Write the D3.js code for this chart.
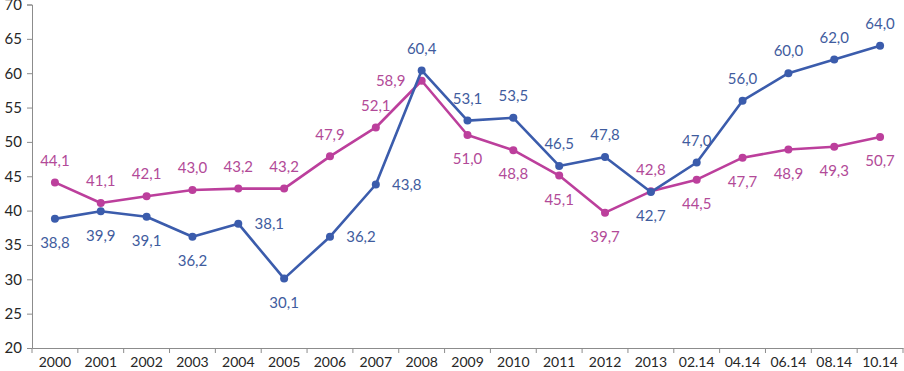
<!DOCTYPE html>
<html><head><meta charset="utf-8">
<script src="https://cdn.jsdelivr.net/npm/d3@7"></script>
<style>body{margin:0;background:#fff}svg{display:block}</style>
</head><body><svg id="c" width="904" height="371"></svg>
<script>
const categories = ["2000","2001","2002","2003","2004","2005","2006","2007","2008","2009","2010","2011","2012","2013","02.14","04.14","06.14","08.14","10.14"];
const seriesBlue = [38.8,39.9,39.1,36.2,38.1,30.1,36.2,43.8,60.4,53.1,53.5,46.5,47.8,42.7,47.0,56.0,60.0,62.0,64.0];
const seriesPink = [44.1,41.1,42.1,43.0,43.2,43.2,47.9,52.1,58.9,51.0,48.8,45.1,39.7,42.8,44.5,47.7,48.9,49.3,50.7];
const yTicks = [20,25,30,35,40,45,50,55,60,65,70];

// label placement (layout, not data)
const placeBlue = ["b","b","b","b","r","b","r","r","t","t","t","t","t","b","t","t","t","t","t"];
const placePink = ["t","t","t","t","t","t","t","t","l","b","b","b","b","t","b","b","b","b","b"];

(function(){
const svg = d3.select("#c");
const mLeft = 32, mRight = 903, mTop = 4.5, mBottom = 348;
const x = d3.scaleBand().domain(categories).range([mLeft, mRight]);
const y = d3.scaleLinear().domain([20,70]).range([mBottom, mTop]);
const font = "Lato, 'Open Sans', sans-serif";
const axisColor = "#8c8c8c";

const yAxis = svg.append("g").attr("transform", `translate(${mLeft},0)`)
  .call(d3.axisLeft(y).tickValues(yTicks).tickSize(5).tickPadding(5).tickFormat(d3.format("d")));
const xAxis = svg.append("g").attr("transform", `translate(0,${mBottom})`)
  .call(d3.axisBottom(x).tickSize(0).tickPadding(9));
[yAxis, xAxis].forEach(g => {
  g.select(".domain").attr("stroke", axisColor).attr("stroke-width", 1);
  g.selectAll(".tick line").attr("stroke", axisColor);
  g.selectAll("text").attr("fill", "#262626").style("font-family", font).style("font-size", "14px");
});
yAxis.selectAll("text").style("font-size","15px");
const bounds = categories.map(c => x(c)).concat([x(categories[categories.length-1]) + x.bandwidth()]);
svg.append("g").selectAll("line").data(bounds).join("line")
  .attr("x1", d => d).attr("x2", d => d).attr("y1", mBottom).attr("y2", mBottom + 5)
  .attr("stroke", axisColor);

const cx = c => x(c) + x.bandwidth()/2;

function drawSeries(vals, color, textColor, place) {
  const line = d3.line().x((d,i) => cx(categories[i])).y(d => y(d));
  svg.append("path").datum(vals).attr("d", line).attr("fill","none")
    .attr("stroke", color).attr("stroke-width", 2.6).attr("stroke-linejoin","round");
  svg.append("g").selectAll("circle").data(vals).join("circle")
    .attr("cx", (d,i) => cx(categories[i])).attr("cy", d => y(d)).attr("r", 4).attr("fill", color);
  svg.append("g").selectAll("text").data(vals).join("text")
    .attr("x", (d,i) => cx(categories[i]) + (place[i]==="r" ? 31 : place[i]==="l" ? -31 : 0))
    .attr("y", (d,i) => y(d) + (place[i]==="t" ? -22 : place[i]==="b" ? 24 : 0))
    .attr("dy", "0.35em")
    .attr("text-anchor", "middle")
    .attr("fill", textColor)
    .style("font-family", font).style("font-size", "15px")
    .text(d => d3.format(".1f")(d).replace(".", ","));
}
drawSeries(seriesPink, "#BC3F9C", "#B24A98", placePink);
drawSeries(seriesBlue, "#3B5CAC", "#3F5C9E", placeBlue);
})();
</script></body></html>
